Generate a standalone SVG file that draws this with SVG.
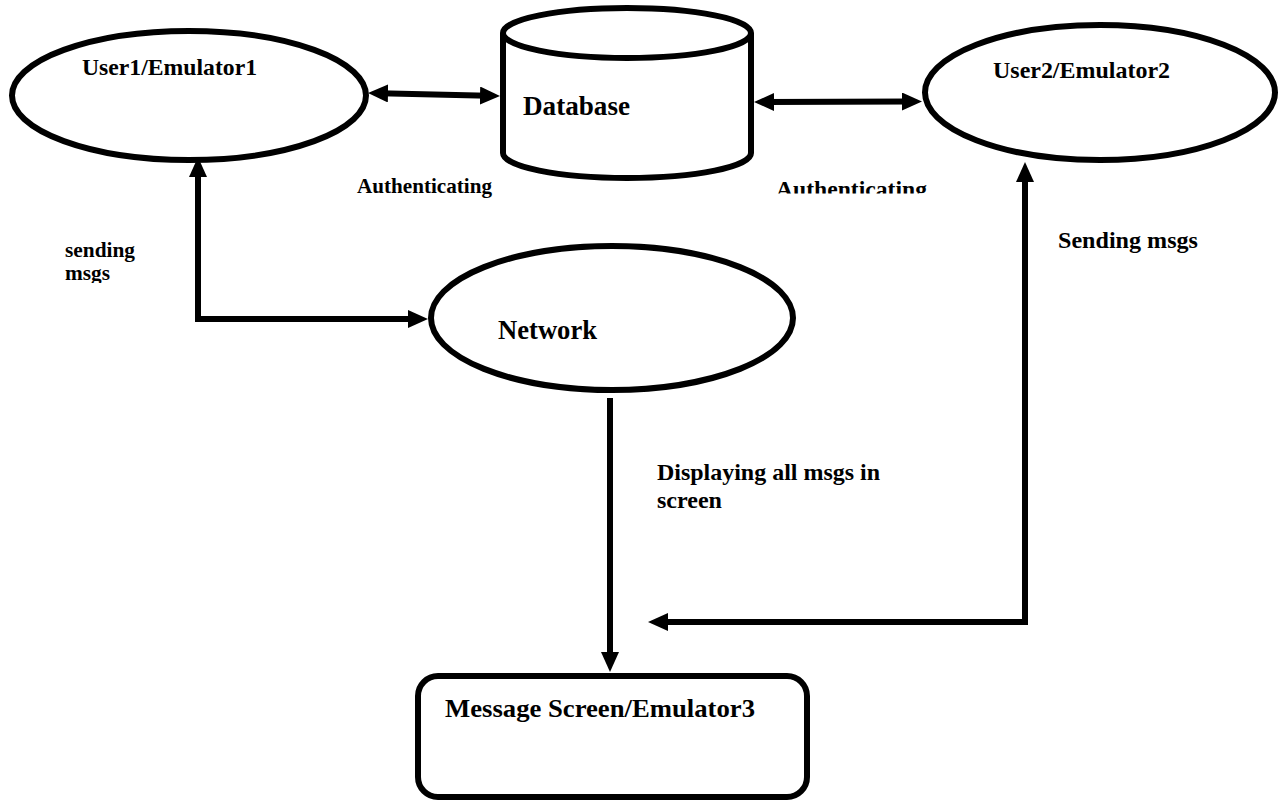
<svg xmlns="http://www.w3.org/2000/svg" width="1280" height="802" viewBox="0 0 1280 802">
<style>
.shape{fill:#fff;stroke:#000;stroke-width:6}
.conn{fill:none;stroke:#000;stroke-width:6}
.lbl{font-family:"Liberation Serif","Times New Roman",serif;font-weight:bold;fill:#000}
</style>
<defs>
<marker id="ah" markerUnits="userSpaceOnUse" markerWidth="22" markerHeight="20" refX="8" refY="9" orient="auto-start-reverse" viewBox="0 0 22 20">
<path d="M0,0 L20,9 L0,18 Z" fill="#000"/>
</marker>
<clipPath id="clipAuth"><rect x="700" y="150" width="300" height="43.5"/></clipPath>
<clipPath id="clipMsgs"><rect x="40" y="230" width="120" height="53"/></clipPath>
</defs>
<rect width="1280" height="802" fill="#fff"/>
<g id="connectors">
<line class="conn" x1="380" y1="93.3" x2="488" y2="95.7" marker-start="url(#ah)" marker-end="url(#ah)"/>
<line class="conn" x1="766" y1="102" x2="910" y2="101.5" marker-start="url(#ah)" marker-end="url(#ah)"/>
<polyline class="conn" points="198,169 198,319 416,319" marker-start="url(#ah)" marker-end="url(#ah)"/>
<line class="conn" x1="610" y1="398" x2="610" y2="660" marker-end="url(#ah)"/>
<polyline class="conn" points="1025,174 1025,622 660,622" marker-start="url(#ah)" marker-end="url(#ah)"/>
</g>
<g id="user1">
<ellipse class="shape" cx="189" cy="95.5" rx="177" ry="64.5"/>
<text class="lbl" x="82" y="75" font-size="23" textLength="175" lengthAdjust="spacingAndGlyphs">User1/Emulator1</text>
</g>
<g id="database">
<path class="shape" d="M503,33 L503,153 A124,25 0 0 0 751,153 L751,33"/>
<ellipse class="shape" cx="627" cy="33" rx="124" ry="25"/>
<text class="lbl" x="523" y="115" font-size="27" textLength="107" lengthAdjust="spacingAndGlyphs">Database</text>
</g>
<g id="user2">
<ellipse class="shape" cx="1100" cy="92.5" rx="175" ry="67.5"/>
<text class="lbl" x="993" y="78" font-size="23" textLength="177" lengthAdjust="spacingAndGlyphs">User2/Emulator2</text>
</g>
<g id="network">
<ellipse class="shape" cx="612" cy="318" rx="181" ry="72"/>
<text class="lbl" x="498" y="339" font-size="27" textLength="99" lengthAdjust="spacingAndGlyphs">Network</text>
</g>
<g id="message-screen">
<rect class="shape" x="418" y="676" width="389" height="121" rx="20" ry="20"/>
<text class="lbl" x="445" y="717" font-size="26" textLength="310" lengthAdjust="spacingAndGlyphs">Message Screen/Emulator3</text>
</g>
<g id="labels">
<text class="lbl" x="357" y="193" font-size="21" textLength="135" lengthAdjust="spacingAndGlyphs">Authenticating</text>
<text class="lbl" x="776" y="197" font-size="23" textLength="151" lengthAdjust="spacingAndGlyphs" clip-path="url(#clipAuth)">Authenticating</text>
<text class="lbl" x="65" y="257" font-size="21" textLength="70" lengthAdjust="spacingAndGlyphs">sending</text>
<text class="lbl" x="65" y="280" font-size="21" textLength="45" lengthAdjust="spacingAndGlyphs" clip-path="url(#clipMsgs)">msgs</text>
<text class="lbl" x="1058" y="248" font-size="24" textLength="140" lengthAdjust="spacingAndGlyphs">Sending msgs</text>
<text class="lbl" x="657" y="480" font-size="24" textLength="223" lengthAdjust="spacingAndGlyphs">Displaying all msgs in</text>
<text class="lbl" x="657" y="508" font-size="24" textLength="65" lengthAdjust="spacingAndGlyphs">screen</text>
</g>
</svg>
